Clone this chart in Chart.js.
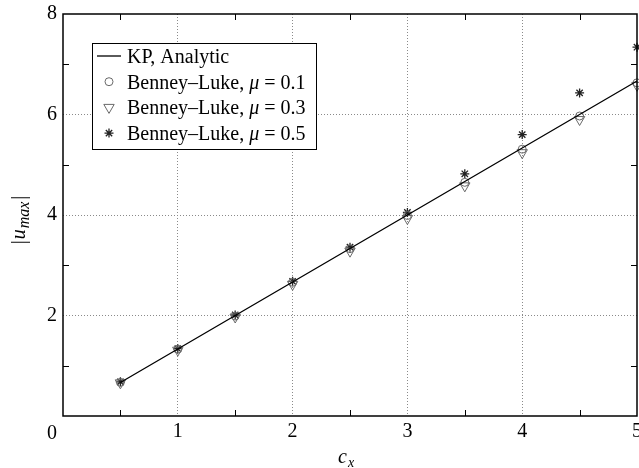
<!DOCTYPE html>
<html>
<head>
<meta charset="utf-8">
<script src="https://cdn.jsdelivr.net/npm/chart.js@4.4.1/dist/chart.umd.min.js"></script>
<style>
  html, body { margin:0; padding:0; background:#fff; }
  #wrap { width:639px; height:468px; }
</style>
</head>
<body>
<div id="wrap"><canvas id="chart" width="639" height="468"></canvas></div>
<script>
// ── Data ─────────────────────────────────────────────────────────────────────
const cx     = [0.5, 1, 1.5, 2, 2.5, 3, 3.5, 4, 4.5, 5];
const kp     = [0.667, 1.333, 2.0, 2.667, 3.333, 4.0, 4.667, 5.333, 6.0, 6.667];
const blMu01 = [0.67, 1.33, 1.99, 2.66, 3.33, 3.99, 4.65, 5.31, 5.97, 6.63];
const blMu03 = [0.66, 1.31, 1.97, 2.62, 3.28, 3.93, 4.58, 5.24, 5.90, 6.58];
const blMu05 = [0.68, 1.34, 2.01, 2.68, 3.36, 4.05, 4.82, 5.60, 6.43, 7.34];
const seriesNames = ['KP, Analytic', 'Benney–Luke, μ = 0.1', 'Benney–Luke, μ = 0.3', 'Benney–Luke, μ = 0.5'];
const xTickLabels = ['0', '1', '2', '3', '4', '5'];
const yTickLabels = ['2', '4', '6', '8'];
const minorX = [0.5, 1.5, 2.5, 3.5, 4.5];
const minorY = [1, 3, 5, 7];

const FONT = '"Liberation Serif", "Times New Roman", serif';
const pts = (xs, ys) => xs.map((v, i) => ({ x: v, y: ys[i] }));

// ── Frame, inward ticks, legend box and axis titles ─────────────────────────
const framePlugin = {
  id: 'frame',
  afterDraw(chart) {
    const { ctx, chartArea: a, scales: { x, y } } = chart;
    ctx.save();

    ctx.strokeStyle = '#000'; ctx.lineWidth = 1;
    ctx.beginPath();
    minorX.forEach(v => {
      const px = Math.round(x.getPixelForValue(v)) + 0.5;
      ctx.moveTo(px, a.bottom); ctx.lineTo(px, a.bottom - 6);
      ctx.moveTo(px, a.top);    ctx.lineTo(px, a.top + 6);
    });
    minorY.forEach(v => {
      const py = Math.round(y.getPixelForValue(v)) + 0.5;
      ctx.moveTo(a.left, py);  ctx.lineTo(a.left + 6, py);
      ctx.moveTo(a.right, py); ctx.lineTo(a.right - 6, py);
    });
    ctx.stroke();

    ctx.lineWidth = 1.5;
    ctx.strokeRect(a.left, a.top, a.right - a.left, a.bottom - a.top);

    // lone "0" under the corner
    ctx.fillStyle = '#000';
    ctx.font = '20px ' + FONT;
    ctx.textAlign = 'center'; ctx.textBaseline = 'alphabetic';
    ctx.fillText(xTickLabels[0], a.left - 11, 439);

    // legend
    const lx = 92, ly = 43, lw = 224, lh = 106;
    ctx.fillStyle = '#fff';
    ctx.fillRect(lx, ly, lw, lh);
    ctx.lineWidth = 1; ctx.strokeStyle = '#000';
    ctx.strokeRect(lx + 0.5, ly + 0.5, lw, lh);
    chart.data.datasets.forEach((ds, i) => {
      const ry = ly + 13 + i * 25.7;
      if (ds.showLine) {
        ctx.strokeStyle = ds.borderColor; ctx.lineWidth = ds.borderWidth;
        ctx.beginPath(); ctx.moveTo(97, ry); ctx.lineTo(121, ry); ctx.stroke();
      } else {
        ctx.strokeStyle = ds.pointBorderColor; ctx.fillStyle = 'rgba(0,0,0,0)';
        ctx.lineWidth = ds.pointBorderWidth;
        Chart.helpers.drawPoint(ctx, {
          pointStyle: ds.pointStyle, rotation: ds.pointRotation || 0,
          radius: ds.pointRadius, borderWidth: ds.pointBorderWidth
        }, 109, ry);
      }
      ctx.fillStyle = '#000';
      ctx.textAlign = 'left'; ctx.textBaseline = 'alphabetic';
      const parts = seriesNames[i].split('μ');
      let tx = 127;
      parts.forEach((p, k) => {
        if (k > 0) {
          ctx.font = 'italic 20px ' + FONT;
          ctx.fillText('μ', tx, ry + 7); tx += ctx.measureText('μ').width;
        }
        ctx.font = '20px ' + FONT;
        ctx.fillText(p, tx, ry + 7); tx += ctx.measureText(p).width;
      });
    });

    // x title: c_x
    ctx.fillStyle = '#000';
    ctx.textAlign = 'left';
    ctx.font = 'italic 20px ' + FONT;
    ctx.fillText('c', 338, 463);
    ctx.font = 'italic 14px ' + FONT;
    ctx.fillText('x', 348, 467);

    // y title: |u_max|
    ctx.translate(25, 220);
    ctx.rotate(-Math.PI / 2);
    ctx.font = '20px ' + FONT;
    const bar = ctx.measureText('|').width;
    ctx.font = 'italic 20px ' + FONT;
    const uw = ctx.measureText('u').width;
    ctx.font = 'italic 16px ' + FONT;
    const mw = ctx.measureText('max').width;
    let t = -(bar * 2 + uw + mw + 4) / 2;
    ctx.font = '20px ' + FONT; ctx.fillText('|', t, 0); t += bar + 1;
    ctx.font = 'italic 20px ' + FONT; ctx.fillText('u', t, 0); t += uw + 1;
    ctx.font = 'italic 16px ' + FONT; ctx.fillText('max', t, 4); t += mw + 2;
    ctx.font = '20px ' + FONT; ctx.fillText('|', t, 0);

    ctx.restore();
  }
};

const gridAt = keep => ctx => (ctx.tick && keep(ctx.tick.value)) ? '#8a8a8a' : 'rgba(0,0,0,0)';

new Chart(document.getElementById('chart'), {
  type: 'scatter',
  data: {
    datasets: [
      { label: seriesNames[0], data: pts(cx, kp), showLine: true, borderColor: '#000', borderWidth: 1.3,
        pointRadius: 0, clip: false },
      { label: seriesNames[1], data: pts(cx, blMu01), pointStyle: 'circle', pointRadius: 4,
        pointBorderColor: '#6a6a6a', pointBackgroundColor: 'rgba(0,0,0,0)', pointBorderWidth: 1, clip: false },
      { label: seriesNames[2], data: pts(cx, blMu03), pointStyle: 'triangle', pointRotation: 180, pointRadius: 6,
        pointBorderColor: '#6a6a6a', pointBackgroundColor: 'rgba(0,0,0,0)', pointBorderWidth: 1, clip: false },
      { label: seriesNames[3], data: pts(cx, blMu05), pointStyle: 'star', pointRadius: 4.5,
        pointBorderColor: '#222', pointBorderWidth: 1.3, clip: false },
    ]
  },
  options: {
    responsive: false, animation: false, events: [],
    layout: { autoPadding: false, padding: { top: 14, right: 2, left: 0, bottom: 0 } },
    plugins: { legend: { display: false }, tooltip: { enabled: false } },
    scales: {
      x: {
        type: 'linear', min: 0, max: 5,
        afterFit: s => { s.height = 52; s.paddingLeft = 0; s.paddingRight = 0; },
        ticks: {
          stepSize: 0.5, autoSkip: false, maxRotation: 0, padding: 4, color: '#000',
          font: { family: FONT, size: 20 },
          callback: v => (Number.isInteger(v) && v > 0) ? xTickLabels[v] : ''
        },
        grid: { color: gridAt(v => Number.isInteger(v) && v > 0 && v < 5), lineWidth: 1, drawTicks: false },
        border: { display: false, dash: [1, 2] }
      },
      y: {
        type: 'linear', min: 0, max: 8,
        afterFit: s => { s.width = 63; s.paddingTop = 0; s.paddingBottom = 0; },
        ticks: {
          stepSize: 1, autoSkip: false, padding: 6, color: '#000',
          font: { family: FONT, size: 20 },
          callback: v => (v % 2 === 0 && v > 0) ? yTickLabels[v / 2 - 1] : ''
        },
        grid: { color: gridAt(v => v % 2 === 0 && v > 0 && v < 8), lineWidth: 1, drawTicks: false },
        border: { display: false, dash: [1, 2] }
      }
    }
  },
  plugins: [framePlugin]
});
</script>
</body>
</html>
